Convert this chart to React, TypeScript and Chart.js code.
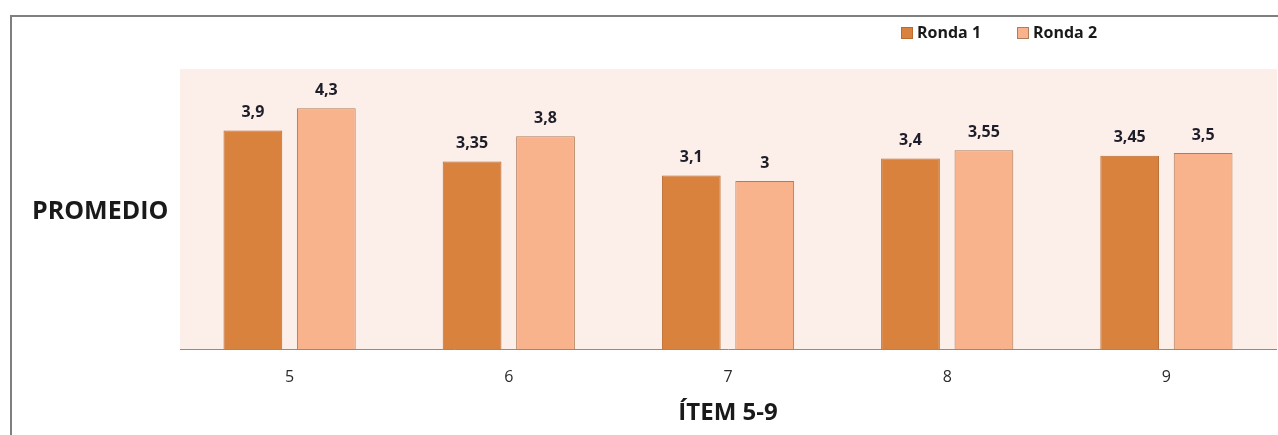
import React, { useEffect, useRef } from "react";
import { Chart, registerables } from "chart.js";

Chart.register(...registerables);

const categories = ["5", "6", "7", "8", "9"];
const ronda1 = [3.9, 3.35, 3.1, 3.4, 3.45];
const ronda2 = [4.3, 3.8, 3.0, 3.55, 3.5];
const seriesNames = ["Ronda 1", "Ronda 2"];
const yTitle = "PROMEDIO";
const xTitle = "ÍTEM 5-9";

const FONT = "'Open Sans', 'Liberation Sans', sans-serif";
const COL1 = "#D8823E";
const COL1B = "#B96A30";
const COL2 = "#F8B38C";
const COL2B = "#B07C5A";

const bgPlugin = {
  id: "areaBg",
  beforeDraw(chart: any) {
    const { ctx, chartArea } = chart;
    ctx.save();
    ctx.fillStyle = "#FCEEE8";
    ctx.fillRect(chartArea.left, chartArea.top, chartArea.right - chartArea.left + 1, chartArea.bottom - chartArea.top);
    ctx.restore();
  },
};

const labelsPlugin = {
  id: "valueLabels",
  afterDatasetsDraw(chart: any) {
    const { ctx } = chart;
    ctx.save();
    ctx.font = `bold 16px ${FONT}`;
    ctx.fillStyle = "#1E1E2A";
    ctx.textAlign = "center";
    ctx.textBaseline = "middle";
    chart.data.datasets.forEach((ds: any, i: number) => {
      const meta = chart.getDatasetMeta(i);
      meta.data.forEach((el: any, j: number) => {
        const v = String(ds.data[j]).replace(".", ",");
        ctx.fillText(v, el.x, el.y - 18);
      });
    });
    ctx.restore();
  },
};

const textPlugin = {
  id: "customTexts",
  afterDraw(chart: any) {
    const { ctx, chartArea } = chart;
    ctx.save();
    // Y title (horizontal)
    ctx.font = `bold 25px ${FONT}`;
    ctx.fillStyle = "#1A1A1A";
    ctx.textAlign = "left";
    ctx.textBaseline = "middle";
    ctx.fillText(yTitle, 32, 212);
    // X title
    ctx.font = `bold 24px ${FONT}`;
    ctx.textAlign = "center";
    ctx.fillText(xTitle, (chartArea.left + chartArea.right) / 2, 413);
    // Legend
    ctx.font = `bold 16px ${FONT}`;
    const xs = [901, 1017];
    chart.data.datasets.forEach((ds: any, i: number) => {
      const x = xs[i];
      ctx.fillStyle = ds.backgroundColor;
      ctx.fillRect(x, 27, 12, 12);
      ctx.strokeStyle = ds.borderColor;
      ctx.lineWidth = 1;
      ctx.strokeRect(x + 0.5, 27.5, 11, 11);
      ctx.fillStyle = "#1A1A1A";
      ctx.textAlign = "left";
      ctx.textBaseline = "middle";
      ctx.fillText(ds.label, x + 16, 33);
    });
    ctx.restore();
  },
};

export default function App() {
  const ref = useRef<HTMLCanvasElement>(null);
  useEffect(() => {
    if (!ref.current) return;
    const chart = new Chart(ref.current, {
      type: "bar",
      data: {
        labels: categories,
        datasets: [
          {
            label: seriesNames[0],
            data: ronda1,
            backgroundColor: COL1,
            borderColor: COL1B,
            borderWidth: 1,
            categoryPercentage: 0.67,
            barPercentage: 0.8,
          },
          {
            label: seriesNames[1],
            data: ronda2,
            backgroundColor: COL2,
            borderColor: COL2B,
            borderWidth: 1,
            categoryPercentage: 0.67,
            barPercentage: 0.8,
          },
        ],
      },
      options: {
        animation: false,
        responsive: false,
        maintainAspectRatio: false,
        layout: { padding: { left: 180, right: 2, top: 69, bottom: 0 } },
        plugins: {
          legend: { display: false },
          tooltip: { enabled: false },
          title: { display: false },
        },
        scales: {
          y: { display: false, min: 0, max: 5 },
          x: {
            grid: { display: false, drawTicks: false },
            border: { display: true, color: "#8C8C8C", width: 1 },
            ticks: {
              color: "#2A2A2A",
              font: { family: FONT, size: 16 },
              padding: 19,
            },
            afterFit(scale: any) {
              scale.height = 86;
            },
          },
        },
      },
      plugins: [bgPlugin, labelsPlugin, textPlugin],
    });
    return () => chart.destroy();
  }, []);

  return (
    <div style={{ position: "fixed", left: 0, top: 0, width: 1278, height: 435, overflow: "hidden", background: "#fff" }}>
      <canvas ref={ref} width={1278} height={435} style={{ position: "absolute", left: 0, top: 0, width: 1278, height: 435 }} />
      <div
        style={{
          position: "absolute",
          left: 10,
          top: 15,
          width: 1400,
          height: 600,
          border: "2px solid #7F7F7F",
          pointerEvents: "none",
        }}
      />
    </div>
  );
}
